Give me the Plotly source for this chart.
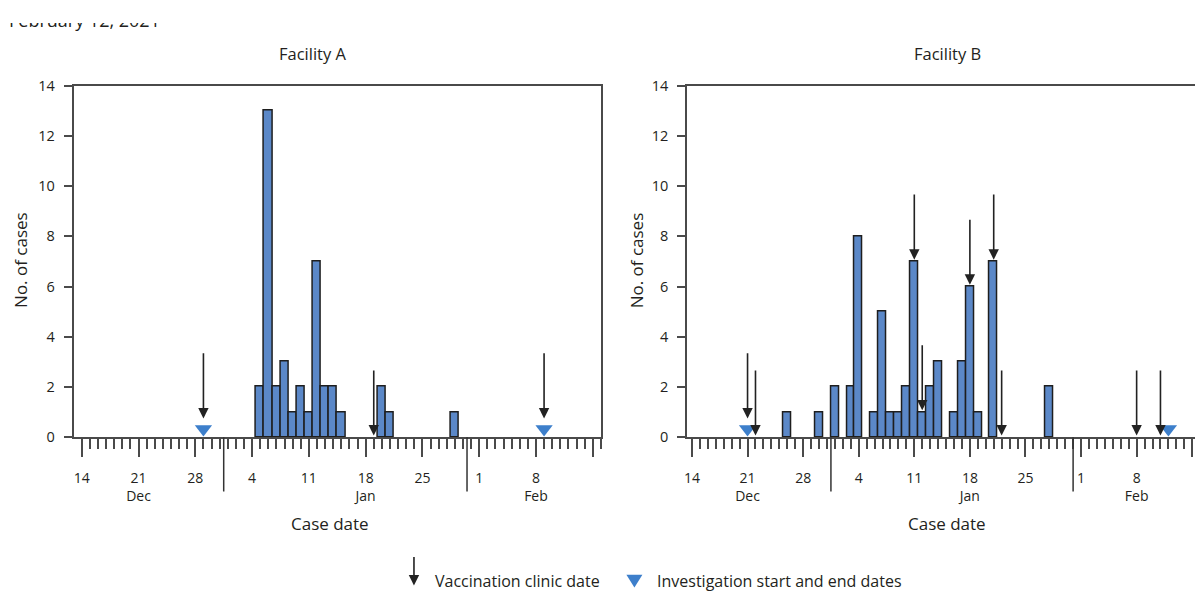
import pandas as pd
import plotly.graph_objects as go

# ---------------- data ----------------
a_dates = ["2021-01-05", "2021-01-06", "2021-01-07", "2021-01-08", "2021-01-09",
           "2021-01-10", "2021-01-11", "2021-01-12", "2021-01-13", "2021-01-14",
           "2021-01-15", "2021-01-20", "2021-01-21", "2021-01-29"]
a_cases = [2, 13, 2, 3, 1, 2, 1, 7, 2, 2, 1, 2, 1, 1]
a_vacc = ["2020-12-29", "2021-01-19", "2021-02-09"]
a_invest = ["2020-12-29", "2021-02-09"]

b_dates = ["2020-12-26", "2020-12-30", "2021-01-01", "2021-01-03", "2021-01-04",
           "2021-01-06", "2021-01-07", "2021-01-08", "2021-01-09", "2021-01-10",
           "2021-01-11", "2021-01-12", "2021-01-13", "2021-01-14", "2021-01-16",
           "2021-01-17", "2021-01-18", "2021-01-19", "2021-01-21", "2021-01-28"]
b_cases = [1, 1, 2, 2, 8, 1, 5, 1, 1, 2, 7, 1, 2, 3, 1, 3, 6, 1, 7, 2]
b_vacc = ["2020-12-21", "2020-12-22", "2021-01-11", "2021-01-12", "2021-01-18",
          "2021-01-21", "2021-01-22", "2021-02-08", "2021-02-11"]
b_invest = ["2020-12-21", "2021-02-12"]

week_ticks = ["2020-12-14", "2020-12-21", "2020-12-28", "2021-01-04", "2021-01-11",
              "2021-01-18", "2021-01-25", "2021-02-01", "2021-02-08", "2021-02-15"]
week_labels = ["14", "21<br>Dec", "28", "4", "11", "18<br>Jan", "25", "1", "8<br>Feb", ""]
y_ticks = [0, 2, 4, 6, 8, 10, 12, 14]

# ---------------- layout helpers ----------------
W, H = 1195, 609
FONT = "Open Sans"
TXT = "#231f20"
AX = "#4a4a4a"
BAR = "#5b88c8"
TRI = "#3d7fcb"


def px(x):
    return x / W


def py(y):
    return 1 - y / H


base = pd.Timestamp("2020-12-14")


def day(d):
    return str(base + pd.Timedelta(days=d))


fig = go.Figure()

panels = [
    dict(xa="x", ya="y", dates=a_dates, cases=a_cases, vacc=a_vacc, inv=a_invest,
         sep=["2020-12-31 12:00", "2021-01-30 12:00"]),
    dict(xa="x2", ya="y2", dates=b_dates, cases=b_cases, vacc=b_vacc, inv=b_invest,
         sep=["2020-12-31 12:00", "2021-01-31 00:00"]),
]

annotations = []
shapes = []

for p in panels:
    fig.add_trace(go.Bar(
        x=p["dates"], y=p["cases"], width=86400000,
        marker=dict(color=BAR, line=dict(color="#1e1e1e", width=1.5)),
        xaxis=p["xa"], yaxis=p["ya"], showlegend=False, hoverinfo="x+y"))
    fig.add_trace(go.Scatter(
        x=p["inv"], y=[0.33] * len(p["inv"]), mode="markers",
        marker=dict(symbol="triangle-down", size=15, color=TRI),
        xaxis=p["xa"], yaxis=p["ya"], showlegend=False, cliponaxis=False))
    heights = dict(zip(p["dates"], p["cases"]))
    for d in p["vacc"]:
        tip = 0.75 if d in p["inv"] else heights.get(d, 0) + 0.07
        annotations.append(dict(
            x=d, y=tip, ax=d, ay=tip + 2.65, xref=p["xa"], yref=p["ya"],
            axref=p["xa"], ayref=p["ya"], text="", showarrow=True,
            arrowhead=2, arrowsize=1.3, arrowwidth=1.6, arrowcolor="#222"))
    for s in p["sep"]:
        shapes.append(dict(type="line", xref=p["xa"], yref="paper", x0=s, x1=s,
                           y0=py(441), y1=py(497), line=dict(color="#333", width=1.5)))

xcommon = dict(
    type="date", tickmode="array", tickvals=week_ticks, ticktext=week_labels,
    ticks="outside", ticklen=18, tickwidth=1.5, tickcolor=AX, ticklabelstandoff=9,
    minor=dict(dtick=86400000, tick0="2020-12-14", ticks="outside", ticklen=10,
               tickwidth=1.5, tickcolor=AX, showgrid=False),
    showline=True, linecolor=AX, linewidth=2, showgrid=False, zeroline=False,
    tickfont=dict(family=FONT, size=14, color=TXT), fixedrange=True,
)
ycommon = dict(
    range=[0, 14], tickmode="array", tickvals=y_ticks, ticks="outside", ticklen=8,
    tickwidth=1.5, tickcolor=AX, showline=True, linecolor=AX, linewidth=2,
    ticklabelstandoff=6,
    showgrid=False, zeroline=False, tickfont=dict(family=FONT, size=14.5, color=TXT),
    domain=[py(441), py(78)], fixedrange=True,
)

fig.update_layout(
    width=W, height=H, margin=dict(l=0, r=0, t=0, b=0),
    paper_bgcolor="white", plot_bgcolor="white", bargap=0,
    font=dict(family=FONT, color=TXT),
    xaxis=dict(xcommon, domain=[px(71), px(600)], anchor="y", mirror=True,
               range=[day(-0.98), day(64.08)]),
    yaxis=dict(ycommon, anchor="x", mirror=True),
    xaxis2=dict(xcommon, domain=[px(686), 1.0], anchor="y2", mirror=True,
                range=[day(-0.59), day(63.35)]),
    yaxis2=dict(ycommon, anchor="x2", mirror=False),
    showlegend=False,
)


def label(x, y, text, size=16.5, angle=0, xanchor="center"):
    annotations.append(dict(x=px(x), y=py(y), xref="paper", yref="paper", text=text,
                            xanchor=xanchor, yanchor="middle", textangle=angle,
                            showarrow=False, font=dict(size=size, family=FONT, color=TXT)))


# titles and axis labels
label(311, 45, "Facility A")
label(947, 45, "Facility B")
label(328, 530, "Case date", size=17)
label(946, 530, "Case date", size=17)
label(18, 258, "No. of cases", size=17, angle=-90)
label(636, 258, "No. of cases", size=17, angle=-90)

# header line: only the lower part of its glyphs shows below the page's top crop
label(4, 10, "February 12, 2021", size=18, xanchor="left")
annotations.append(dict(x=0, y=1, xref="paper", yref="paper", xanchor="left", yanchor="top",
                        text="&nbsp;", width=190, height=13, bgcolor="white",
                        borderpad=0, borderwidth=0, showarrow=False,
                        font=dict(size=8, family=FONT, color="white")))

# legend
annotations.append(dict(x=px(412), y=py(594), xref="paper", yref="paper", ax=0, ay=-30,
                        text="", showarrow=True, arrowhead=2, arrowsize=1.3,
                        arrowwidth=1.6, arrowcolor="#222"))
label(431, 589, "Vaccination clinic date", size=16, xanchor="left")
label(654, 589, "Investigation start and end dates", size=16, xanchor="left")
shapes.append(dict(type="path", xref="paper", yref="paper",
                   path=f"M {px(625)} {py(583)} L {px(641)} {py(583)} L {px(633)} {py(596)} Z",
                   fillcolor=TRI, line=dict(width=0)))

fig.update_layout(annotations=annotations, shapes=shapes)

fig.write_html(
    "out.html", config={"displayModeBar": False},
    post_script=("document.documentElement.setAttribute('style','margin:0;padding:0;overflow:hidden');"
                 "document.body.setAttribute('style','margin:0;padding:0;overflow:hidden');"))
